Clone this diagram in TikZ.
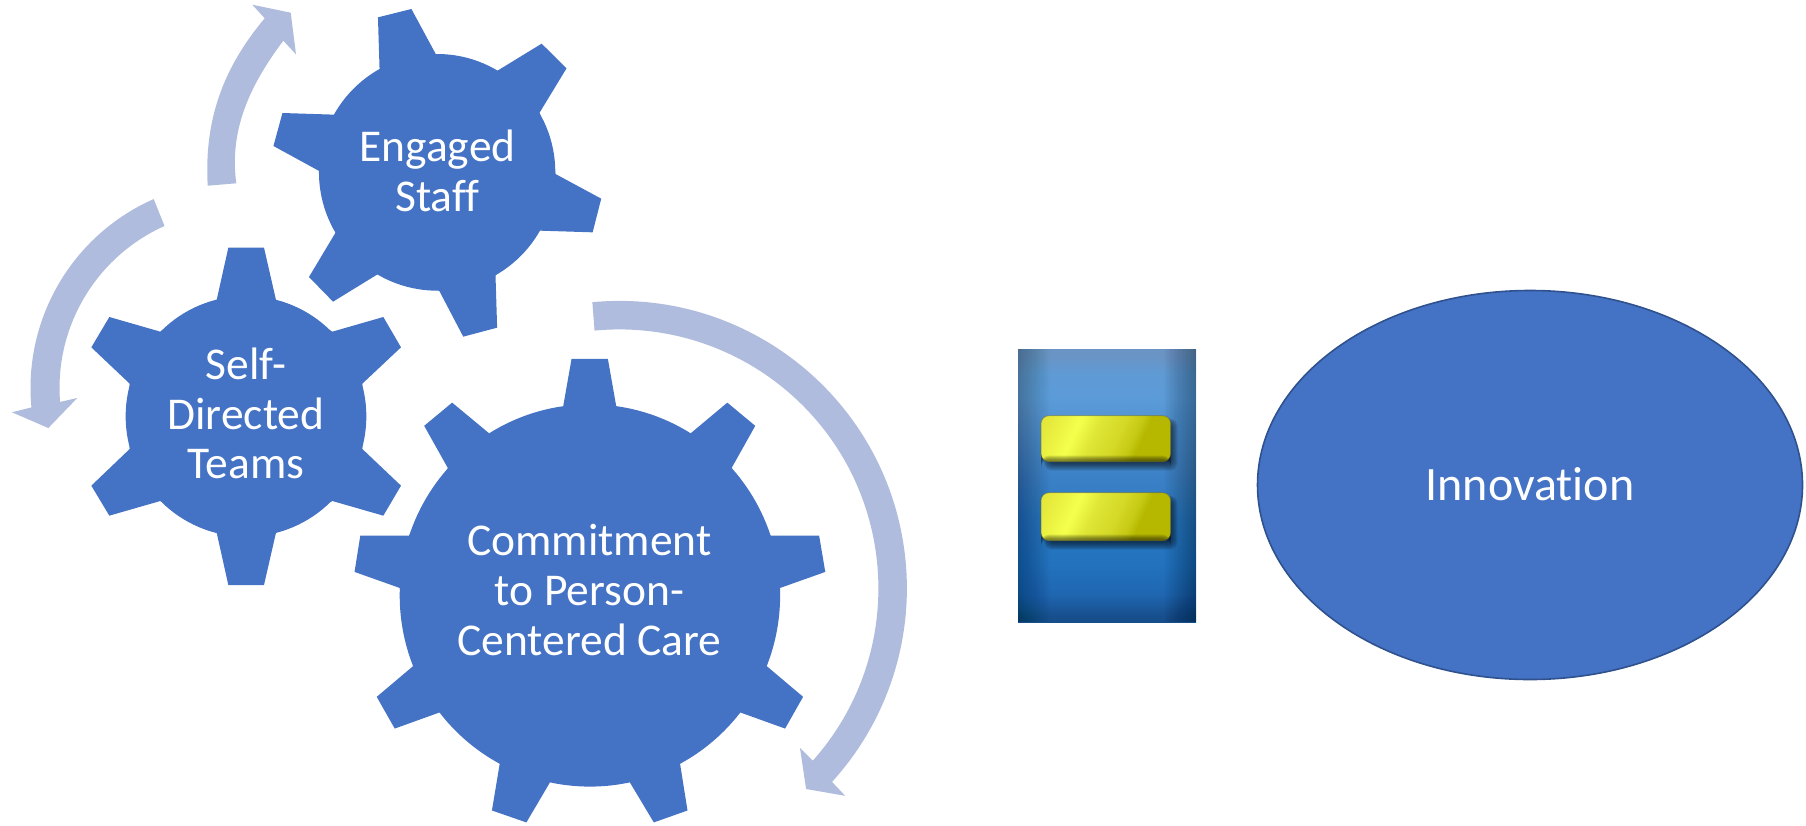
\documentclass[tikz,border=0pt]{standalone}
\usepackage{fontspec}
\setmainfont[Ligatures=NoCommon]{Carlito}
\definecolor{gearblue}{HTML}{4472C4}
\definecolor{arrowblue}{HTML}{AFBCDD}
\definecolor{ringblue}{HTML}{2F528F}
\definecolor{eqE}{HTML}{174E8C}
\definecolor{eqD}{HTML}{1F66B0}
\definecolor{eqC}{HTML}{2272BE}
\definecolor{eqB}{HTML}{2A78C2}
\definecolor{eqM}{HTML}{3A80C6}
\definecolor{eqA}{HTML}{5B9BD8}
\definecolor{eqH}{HTML}{5F9AD4}
\definecolor{eqT}{HTML}{6A94C4}
\definecolor{barA}{HTML}{E0E436}
\definecolor{barF}{HTML}{E6EA3C}
\definecolor{barB}{HTML}{F4FF4C}
\definecolor{barC}{HTML}{DFE636}
\definecolor{barG}{HTML}{D4D826}
\definecolor{barD}{HTML}{C6CA14}
\definecolor{barE}{HTML}{B6B800}
\pgfdeclareverticalshading{eqback}{100bp}{
  color(0bp)=(eqE); color(25bp)=(eqE); color(26bp)=(eqE); color(30bp)=(eqD); color(35.5bp)=(eqC); color(44bp)=(eqB);
  color(51bp)=(eqM); color(66bp)=(eqA); color(70.5bp)=(eqH); color(74bp)=(eqT); color(100bp)=(eqT)}
\pgfdeclarehorizontalshading{barshade}{100bp}{
  color(0bp)=(barA); color(15bp)=(barA); color(22bp)=(barF); color(35bp)=(barB); color(44bp)=(barC); color(55bp)=(barG); color(62bp)=(barD); color(66bp)=(barE); color(100bp)=(barE)}
\tikzset{
  gearshape/.style={fill=gearblue,draw=none},
  bandshape/.style={fill=arrowblue,draw=none},
  geartext/.style={text=white,align=center,inner sep=0pt,font=\fontsize{45.5}{49.5}\selectfont},
  eqbar/.style={rounded corners=8pt,shading=barshade,shading angle=-25},
}
\begin{document}
\begin{tikzpicture}[x=1pt,y=-1pt]
\useasboundingbox (0,0) rectangle (1806,825);

% Engaged Staff gear
\begin{scope}[x=0.40816pt,y=-0.33333pt]
\fill[gearshape] (1071,517) circle [x radius=289.5,y radius=355];
\fill[gearshape] (930,210)--(926,52)--(1008,27)--(1068,163)--(1219,212)--(1327,131)--(1388,205)--(1322,338)
 --(1361,522)--(1473,596)--(1452,697)--(1323,692)--(1214,826)--(1218,983)--(1135,1010)--(1076,872)
 --(925,823)--(816,905)--(757,831)--(822,698)--(782,513)--(670,438)--(692,339)--(820,344)--cycle;
\end{scope}

% Self-Directed Teams gear
\begin{scope}[shift={(0,230)},x=0.33333pt,y=-0.33333pt]
\fill[gearshape] (738,559) circle [radius=361];
\fill[gearshape] (650,210)--(685,53)--(792,53)--(828,210)--(997,305)--(1150,261)--(1203,352)--(1087,461)
 --(1087,657)--(1203,767)--(1150,857)--(997,813)--(828,908)--(792,1065)--(685,1065)--(650,908)
 --(481,813)--(328,857)--(274,767)--(389,657)--(389,461)--(274,352)--(328,261)--(481,305)--cycle;
\end{scope}

% Commitment gear
\begin{scope}[shift={(340,290)},x=0.38270pt,y=-0.34130pt]
\fill[gearshape] (653,895) circle [x radius=497,y radius=560];
\fill[gearshape] (583,342)--(605,202)--(700,202)--(722,342)--(913,423)--(1012,330)--(1085,398)--(1023,522)
 --(1125,720)--(1252,720)--(1268,826)--(1150,873)--(1115,1102)--(1210,1192)--(1163,1285)--(1044,1237)
 --(888,1384)--(908,1525)--(820,1560)--(756,1440)--(550,1440)--(487,1560)--(397,1525)--(418,1384)
 --(262,1237)--(143,1285)--(96,1192)--(191,1102)--(156,873)--(38,826)--(53,720)--(180,720)
 --(282,522)--(220,398)--(293,330)--(393,423)--cycle;
\end{scope}

% Curved arrows
\fill[bandshape] (207.7,185.7) .. controls (204,120) and (223,68) .. (264.7,18.3)
  -- (252.3,4.7) -- (290.7,12.7) -- (296,54.3) -- (283.3,40.7)
  .. controls (250,85) and (229,130) .. (236.3,183.3) -- cycle;
\coordinate (cleft) at (237,388);
\fill[bandshape] ([shift={(cleft)}]246.2:206.5) arc [start angle=246.2,end angle=174.6,radius=206.5]
  -- (12,412.3) -- (48.3,428) -- (77.3,398) -- ([shift={(cleft)}]175.5:177.5)
  arc [start angle=175.5,end angle=245.9,radius=177.5] -- cycle;
\coordinate (cright) at (619.4,588.4);
\fill[bandshape] ([shift={(cright)}]-95.4:287.5) arc [start angle=-95.4,end angle=42.3,radius=287.5]
  -- (845.2,795.8) -- (806.1,789) -- (800,748) -- ([shift={(cright)}]41.7:259)
  arc [start angle=41.7,end angle=-95.5,radius=259] -- cycle;

% Equals sign
\shade[shading=eqback] (1018,349) rectangle (1196,622);
\foreach \i in {1,...,20}{
  \fill[black,opacity=0.013] (1018,349) rectangle (1018+1.6*\i,622);
  \fill[black,opacity=0.016] (1196,349) rectangle (1196-1.6*\i,622);
}
\foreach \t/\b in {415.7/461.7,492.7/540.7}{
  \foreach \i in {0,...,7}{
    \fill[black,opacity=0.09,rounded corners=8pt] (1044+\i*0.5,\t+3+\i*0.5) rectangle (1170.7+7-\i,\b+9-\i);
  }
  \shade[eqbar] (1041,\t) rectangle (1170.7,\b);
  \foreach \i in {0,...,4}{
    \fill[black,opacity=0.11,rounded corners=8pt] (1041,\b-6+\i) rectangle (1170.7,\b);
  }
  \draw[black!45!olive,opacity=0.35,line width=1pt,rounded corners=8pt] (1041,\t) rectangle (1170.7,\b);
}

% Innovation ellipse
\draw[fill=gearblue,draw=ringblue,line width=1.6pt] (1530,485) ellipse [x radius=272.5,y radius=194.5];

% Texts
\node[geartext] (staff) at (437.5,171) {Engaged\\Staff};
\node[geartext] (teams) at (246,413.5) {Self-\\Directed\\Teams};
\node[geartext,font=\fontsize{45.5}{50}\selectfont] (care) at (589.5,590.5) {Commitment\\to Person-\\Centered Care};
\node[text=white,inner sep=0pt,anchor=base,font=\fontsize{48}{52}\selectfont] (innov) at (1530,500.7) {Innovation};
\end{tikzpicture}
\end{document}
